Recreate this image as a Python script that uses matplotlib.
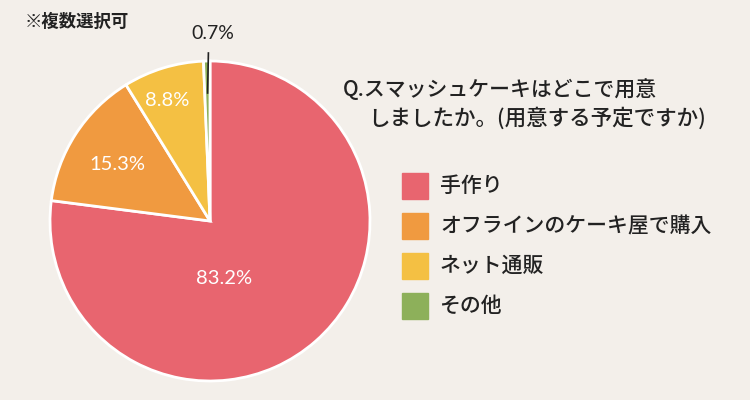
import matplotlib
matplotlib.use("Agg")
import matplotlib.pyplot as plt

categories = ["手作り", "オフラインのケーキ屋で購入", "ネット通販", "その他"]
values = [83.2, 15.3, 8.8, 0.7]
labels = ["83.2%", "15.3%", "8.8%", "0.7%"]
colors = ["#E8656F", "#F09A40", "#F4C043", "#8DB05A"]
title_lines = ["Q.スマッシュケーキはどこで用意", "しましたか。(用意する予定ですか)"]
note = "※複数選択可"

BG = "#F3EFEA"
JP = ["Noto Sans CJK JP", "DejaVu Sans"]
NUM = ["Lato", "DejaVu Sans"]

W, H = 750, 400
fig = plt.figure(figsize=(7.5, 4), dpi=100, facecolor=BG)

cx, cy, r = 210, 179, 160
ax = fig.add_axes([(cx - r) / W, (cy - r) / H, 2 * r / W, 2 * r / H])
ax.set_facecolor(BG)
wedges, _ = ax.pie(values, colors=colors, startangle=90, counterclock=False,
                   radius=1, wedgeprops=dict(edgecolor="white", linewidth=2))
ax.set_xlim(-1, 1)
ax.set_ylim(-1, 1)
ax.axis("off")

# label positions (in radius units) relative to centre
pos = [(0.09, -0.36), (-0.58, 0.35), (-0.27, 0.755)]
for (x, y), t in zip(pos, labels[:3]):
    ax.text(x, y, t, color="white", fontsize=14.5, family=NUM,
            ha="center", va="center")

# outside label for small slice
ax.plot([-0.01, -0.015], [1.05, 0.8], color="#222222", lw=1.2, clip_on=False)
ax.text(0.015, 1.17, labels[3], color="#222222", fontsize=14, family=NUM,
        ha="center", va="center", clip_on=False)

# note
fig.text(25 / W, 1 - 22 / H, note, fontsize=12.5, family=JP, weight="bold",
         color="#222222", ha="left", va="center")

# title
fig.text(343 / W, 1 - 90 / H, title_lines[0], fontsize=15, family=JP,
         weight="medium", color="#222222", ha="left", va="center")
fig.text(368 / W, 1 - 118 / H, title_lines[1], fontsize=15.5, family=JP,
         weight="medium", color="#222222", ha="left", va="center")

# legend
y0 = 186
for i, (c, lab) in enumerate(zip(colors, categories)):
    yy = y0 + i * 40
    fig.patches.append(plt.Rectangle((402 / W, 1 - (yy + 13) / H), 26 / W, 26 / H,
                                     transform=fig.transFigure, color=c))
    fig.text(440 / W, 1 - yy / H, lab, fontsize=15, family=JP, weight="medium",
             color="#222222", ha="left", va="center")

fig.savefig("out.png", dpi=100, facecolor=BG)
